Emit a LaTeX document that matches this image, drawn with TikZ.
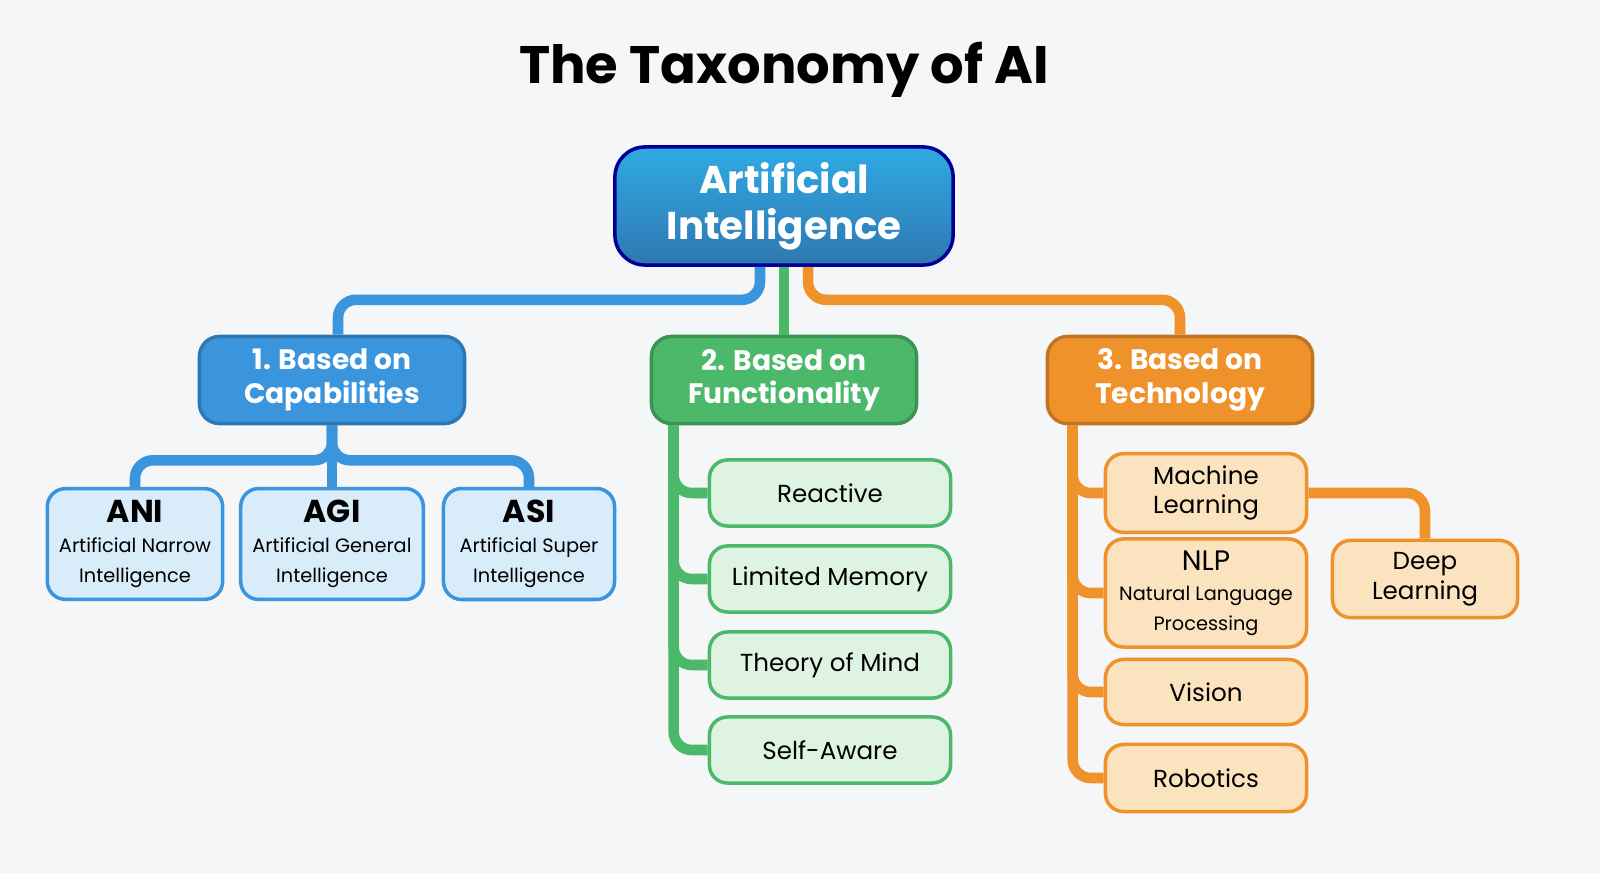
\documentclass[tikz,border=0pt]{standalone}
\usepackage{fontspec}
\setmainfont{Poppins}
\usetikzlibrary{calc}
\definecolor{bgc}{HTML}{F4F6F8}
\definecolor{bluel}{HTML}{3B95DD}
\definecolor{greenl}{HTML}{4CB86A}
\definecolor{orangel}{HTML}{F0922B}
\definecolor{bluelf}{HTML}{D8ECFA}
\definecolor{greenlf}{HTML}{DFF3E2}
\definecolor{orangelf}{HTML}{FCE3C0}
\newcommand{\bigsz}{\fontsize{9}{11}\selectfont\bfseries}
\newcommand{\smallsz}{\fontsize{5.5}{6.5}\selectfont\mdseries}
\begin{document}
\begin{tikzpicture}[x=0.01cm, y=-0.01cm,
        top/.style={rounded corners=0.3cm, draw=blue!60!black, line width=1pt, top color=bluel!80!cyan, bottom color=bluel!80!black, text=white, font=\fontsize{11}{13}\selectfont\bfseries, align=center, minimum width=3.38cm, minimum height=1.18cm},
        cat/.style={rounded corners=0.2cm, draw=#1!80!black, line width=1pt, fill=#1, text=white, font=\fontsize{8}{9.5}\selectfont\bfseries, align=center, minimum width=2.65cm, minimum height=0.87cm},
        leaf/.style={rounded corners=0.18cm, draw=#1, line width=1pt, fill=#1f, align=center, font=\fontsize{7}{8.5}\selectfont},
        link/.style={line width=3pt, color=#1, rounded corners=0.18cm},
        ]

    \fill[bgc] (0,0) rectangle (1600,873);
    \node (title) at (784,70) [font=\fontsize{15}{18}\selectfont\bfseries] {The Taxonomy of AI};

    \node (ai) at (784,206) [top] {Artificial\\Intelligence};

    \node (cap) at (332,380) [cat=bluel] {1. Based on\\Capabilities};
    \node (func) at (784,380) [cat=greenl] {2. Based on\\Functionality};
    \node (tech) at (1180,380) [cat=orangel] {3. Based on\\Technology};

    \draw [link=bluel] ([xshift=-0.24cm]ai.south) -- ++(0,33) -| ([xshift=0.06cm]cap.north);
    \draw [link=greenl] (ai.south) -- (func.north);
    \draw [link=orangel] ([xshift=0.24cm]ai.south) -- ++(0,33) -| (tech.north);

    % capabilities
    \node (ani) at (135,544) [leaf=bluel, minimum width=1.71cm, minimum height=1.02cm] {\bigsz ANI\\ \smallsz Artificial Narrow\\ \smallsz Intelligence};
    \node (agi) at (332,544) [leaf=bluel, minimum width=1.71cm, minimum height=1.02cm] {\bigsz AGI\\ \smallsz Artificial General\\ \smallsz Intelligence};
    \node (asi) at (529,544) [leaf=bluel, minimum width=1.71cm, minimum height=1.02cm] {\bigsz ASI\\ \smallsz Artificial Super\\ \smallsz Intelligence};

    \draw [link=bluel] (cap.south) -- ++(0,35) -| (ani.north);
    \draw [link=bluel] (cap.south) -- ++(0,35) -| (asi.north);
    \draw [link=bluel] (cap.south) -- (agi.north);

    % functionality
    \foreach \name/\y/\txt in {rea/493/Reactive, lim/579/Limited Memory, tom/665/Theory of Mind, saw/750/Self-Aware} {
        \node (\name) at (830,\y) [leaf=greenl, minimum width=2.41cm, minimum height=0.66cm] {\txt};
        \draw [link=greenl] ([xshift=0.24cm]func.south west) |- (\name.west);
    }

    % technology
    \node (ml) at (1206,493) [leaf=orangel, minimum width=2.01cm, minimum height=0.67cm] {Machine\\Learning};
    \node (nlp) at (1206,593) [leaf=orangel, minimum width=2.01cm, minimum height=0.94cm] {\fontsize{8}{9.5}\selectfont NLP\\ \smallsz Natural Language\\ \smallsz Processing};
    \node (vis) at (1206,692) [leaf=orangel, minimum width=2.01cm, minimum height=0.65cm] {Vision};
    \node (rob) at (1206,778) [leaf=orangel, minimum width=2.01cm, minimum height=0.67cm] {Robotics};
    \node (dl) at (1425,579) [leaf=orangel, minimum width=1.85cm, minimum height=0.67cm] {Deep\\Learning};

    \foreach \name in {ml, nlp, vis, rob} {
        \draw [link=orangel] ([xshift=0.27cm]tech.south west) |- (\name.west);
    }
    \draw [link=orangel] (ml.east) -| (dl.north);
\end{tikzpicture}
\end{document}
